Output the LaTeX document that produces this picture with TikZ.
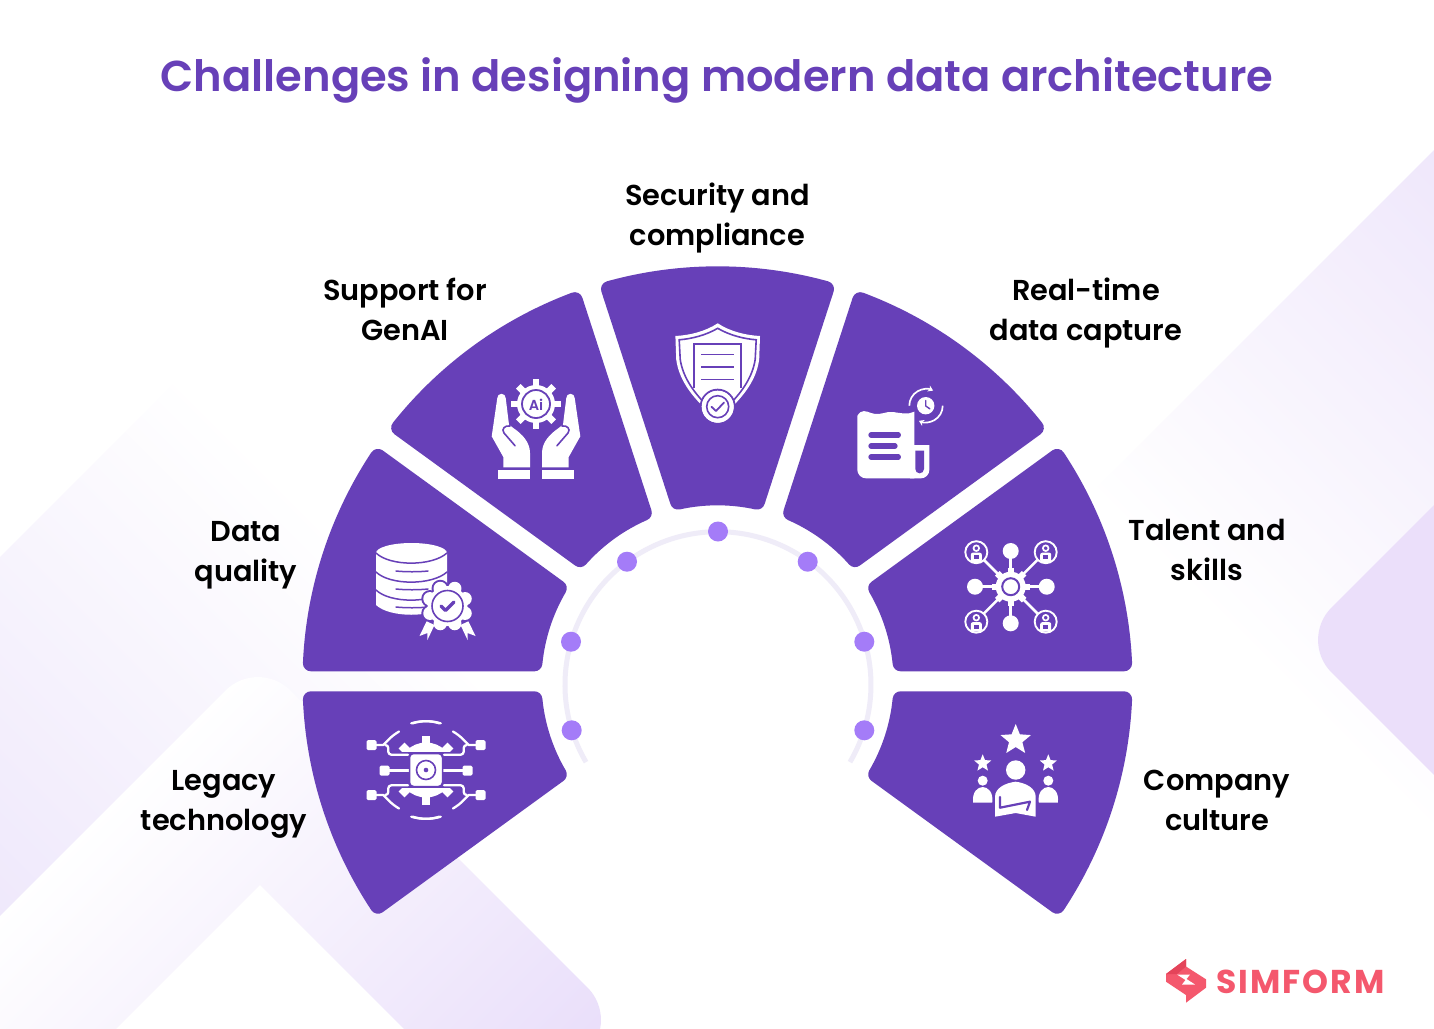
\documentclass[tikz,border=0pt]{standalone}
\usepackage{fontspec}
\usetikzlibrary{arrows.meta}
\newfontfamily\ttlfont[UprightFont={* SemiBold}]{Poppins}
\newfontfamily\logofont[UprightFont={* Bold},LetterSpace=6]{Poppins}
\definecolor{brand}{HTML}{6740B8}
\definecolor{dotc}{HTML}{A47CF8}
\definecolor{ringc}{HTML}{EFECF8}
\definecolor{deepA}{HTML}{EEE7FB}
\definecolor{deepB}{HTML}{E9DEFA}
\definecolor{deepC}{HTML}{EFE7FB}
\definecolor{deepD}{HTML}{EBDFFA}
\definecolor{coral}{HTML}{F4586D}
\definecolor{coraldk}{HTML}{E4445A}
\pgfdeclarehorizontalshading{fadeA}{100bp}{color(0bp)=(white); color(32bp)=(white); color(68bp)=(deepA); color(100bp)=(deepA)}
\pgfdeclarehorizontalshading{fadeB}{100bp}{color(0bp)=(white); color(32bp)=(white); color(68bp)=(deepB); color(100bp)=(deepB)}
\pgfdeclarehorizontalshading{fadeC}{100bp}{color(0bp)=(white); color(32bp)=(white); color(68bp)=(deepC); color(100bp)=(deepC)}
\tikzset{
  sector/.style={fill=brand,draw=brand,line width=16pt,line join=round},
  lbl/.style={font=\ttlfont\fontsize{28.8}{40}\selectfont,align=center,text=black,inner sep=0pt},
  wl/.style={draw=white,line cap=round,line join=round},
  pl/.style={draw=brand,line cap=round,line join=round},
}
\newcommand\gearshape[6]{% x y rOut rIn list halfwidth
  \begin{scope}[shift={(#1,#2)}]
    \fill[white] (0,0) circle[radius=#4];
    \foreach \g in {#5}{\fill[white,rotate=\g] (#4-1,-#6) rectangle (#3,#6);}
  \end{scope}}
\newcommand\starshape[3]{\fill[white,shift={(#1,#2)},line join=round]
  (-90:#3) -- (-54:{#3*.44}) -- (-18:#3) -- (18:{#3*.44}) -- (54:#3) -- (90:{#3*.44}) -- (126:#3) -- (162:{#3*.44}) -- (198:#3) -- (234:{#3*.44}) -- cycle;}
\begin{document}
\begin{tikzpicture}[x=1pt,y=-1pt]
\useasboundingbox (0,0) rectangle (1434,1028);
% background
\begin{scope}
\clip (0,0) rectangle (1434,1028);
\fill[white] (0,0) rectangle (1434,1028);
\shade[shading=fadeA,shading angle=225] (178.5,378.5) -- (553,753) -- (178.5,1128) -- (-196,753) -- cycle;
\shade[shading=fadeC,shading angle=45] (1434,150) -- (1776,492) -- (1434,834) -- (1092,492) -- cycle;
\fill[deepD,rounded corners=46pt] (1299,640) -- (1500,439) -- (1700,640) -- (1500,841) -- cycle;
\shade[shading=fadeB,shading angle=-45,rounded corners=46pt] (258,658) -- (620,1020) -- (258,1382) -- (-104,1020) -- cycle;
\fill[white] (260,885) -- (420,1045) -- (100,1045) -- cycle;
\end{scope}
% sectors
\foreach \a in {144,180,216,252,288,324,360}{
  \filldraw[sector,shift={(717.5,681.3)}] ({\a+2.535}:407) arc[start angle={\a+2.535},end angle={\a+36-2.535},radius=407]
    -- ({\a+36-5.614}:184) arc[start angle={\a+36-5.614},end angle={\a+5.614},radius=184] -- cycle;
}
% ring and dots
\draw[ringc,line width=5pt,shift={(718,684.7)}] (149.6:153) arc[start angle=149.6,end angle=390.4,radius=153];
\foreach \x/\y in {718/531.5,627/561.7,807.7/561.7,571/641.7,864.3/641.7,571.7/730.3,864.3/730.3}{
  \fill[dotc] (\x,\y) circle[radius=10];
}
% GenAI icon
\begin{scope}[shift={(536,404)}]
  \foreach \s in {1,-1}{
    \begin{scope}[xscale=\s]
      \fill[white] (-38.7,-6) arc[start angle=180,end angle=360,radius=4.2] -- (-27,20.7) -- (-22.7,24)
        .. controls (-14,30) and (-6,38) .. (-6,49) -- (-6,63.3) -- (-32.7,63.3) -- (-32.7,53) -- (-44.3,32.3) -- cycle;
      \draw[pl,line width=1.6pt] (-26,22) .. controls (-31,21) and (-35,25) .. (-32,29) -- (-21,41.7);
      \fill[white] (-37.7,65.7) rectangle (-6,75);
    \end{scope}
  }
\end{scope}
\gearshape{536}{404}{25}{19}{0,45,90,135,180,225,270,315}{3.2}
\draw[brand,line width=1.8pt] (536,404) circle[radius=14];
\node[font=\ttlfont\fontsize{14.5}{14.5}\selectfont,text=brand,inner sep=0pt] (aitxt) at (536,404.5) {Ai};
% database icon
\fill[white] (376,553) -- (447,553) -- (447,605) .. controls (432,618) and (390,618) .. (376,605) -- cycle;
\fill[white] (411.5,553) ellipse[x radius=35.5,y radius=10];
\foreach \yy in {553,572,590}{
  \draw[pl,line width=1.5pt] (376,\yy) .. controls (390,\yy+13.5) and (432,\yy+13.5) .. (447,\yy);
}
\foreach \yy in {571,589,607}{
  \draw[pl,line width=1.5pt] (396,\yy) .. controls (405,\yy+1) and (419,\yy+1) .. (428,\yy);
}
\begin{scope}[shift={(447.5,606)}]
  \fill[brand] (0,0) circle[radius=21];
  \foreach \g in {0,45,...,315}{\fill[brand] (\g+22.5:19) circle[radius=8.7];}
  \fill[white] (0,0) circle[radius=20];
  \foreach \g in {0,45,...,315}{\fill[white] (\g+22.5:19) circle[radius=6.7];}
  \draw[brand,line width=1.6pt] (0,0) circle[radius=15.5];
  \draw[pl,line width=3.4pt] (-6.5,0) -- (-2,4.5) -- (6.5,-4);
\end{scope}
\fill[white] (460.5,625) -- (468.4,621.3) -- (475.5,636) -- (467.6,633) -- (467.6,640) -- cycle;
\fill[white] (434.5,625) -- (426.6,621.3) -- (419.5,636) -- (427.4,633) -- (427.4,640) -- cycle;
% Legacy technology icon
\begin{scope}[shift={(426,770)}]
  \gearshape{0}{0}{34.5}{27.5}{-135,-90,-45,45,90,135}{4.2}
  \fill[brand] (-40,-18.2) rectangle (40,18.2);
  \foreach \sx/\sy in {1/1,-1/1,1/-1,-1/-1}{
    \begin{scope}[xscale=\sx,yscale=\sy]
      \fill[white,rounded corners=1.5pt] (-59.5,-30) rectangle (-49.5,-20);
      \draw[wl,line width=2.3pt] (-50,-25) -- (-42.7,-25) -- (-37.7,-30) .. controls (-34,-34) and (-31,-36) .. (-27,-38.5);
      \draw[wl,line width=2.3pt,rounded corners=3pt] (-40,-25) -- (-37.7,-25) -- (-37.7,-15.3) -- (-18,-15.3);
      \draw[wl,line width=2.3pt] (-13.3,-46.7) .. controls (-5,-49.5) and (5,-49.5) .. (14.7,-46.7);
    \end{scope}
  }
  \foreach \s in {1,-1}{
    \fill[white,rounded corners=1.5pt] (\s*41.5-5,-4.5) rectangle (\s*41.5+5,5.5);
    \draw[white,line width=2.3pt] (\s*37,0.5) -- (\s*16,0.5);
  }
  \filldraw[brand,fill=white,line width=1.5pt,rounded corners=4pt] (-16.5,-16.5) rectangle (16.5,16.5);
  \draw[brand,line width=1.6pt] (0,0) circle[radius=9.5];
  \fill[brand] (0,0) circle[radius=2.3];
\end{scope}
% Security icon
\begin{scope}[shift={(717.7,323.3)}]
  \fill[white] (0,0) .. controls (12,8) and (28,12) .. (42.3,12.7) -- (41.5,36) .. controls (39,55) and (28,70) .. (14,84) -- (0,95) -- (-14,84) .. controls (-28,70) and (-39,55) .. (-41.5,36) -- (-42.3,12.7) .. controls (-28,12) and (-12,8) .. cycle;
  \draw[brand,line width=1.6pt,line join=miter] (0,5) .. controls (12,12) and (26,15.5) .. (38.5,16.5) -- (37.5,36) .. controls (35,53) and (25,68) .. (11,82) -- (0,91) -- (-11,82) .. controls (-25,68) and (-35,53) .. (-37.5,36) -- (-38.5,16.5) .. controls (-26,15.5) and (-12,12) .. cycle;
  \draw[brand,line width=2pt] (-23.7,65) -- (-23.7,20.5) -- (23.7,20.5) -- (23.7,65);
  \foreach \yy in {31,43.5,56}{\draw[brand,line width=1.5pt] (-16.5,\yy) -- (16.5,\yy);}
\end{scope}
\filldraw[white,draw=brand,line width=2pt] (717.7,406.7) circle[radius=17];
\fill[white] (717.7,406.7) circle[radius=16];
\draw[brand,line width=1.6pt] (717.7,406.7) circle[radius=11];
\draw[pl,line width=1.8pt] (711.5,406.8) -- (716,411) -- (724,402.5);
% Real-time icon
\fill[white] (857.3,416) .. controls (861,409) and (866,411) .. (871,413) .. controls (880,416) and (886,411) .. (893,412)
  .. controls (900,413) and (908,415) .. (914.3,411.7) -- (914.3,478.3) -- (866,478.3) arc[start angle=90,end angle=180,radius=8.7] -- cycle;
\fill[white] (910,445) -- (929.3,445) -- (929.3,470) arc[start angle=0,end angle=90,radius=8.3] -- (910,478.3) -- cycle;
\fill[brand] (915.3,450.7) -- (924,450.7) -- (924,469) arc[start angle=0,end angle=180,radius=4.35] -- cycle;
\foreach \yy/\xx in {435/898.3,446/895,457/898.3}{\draw[pl,line width=5.3pt] (871,\yy) -- (\xx,\yy);}
\fill[white] (925.7,405.7) circle[radius=8.7];
\draw[pl,line width=1.4pt] (925.7,400.5) -- (925.7,406) -- (929.8,408.8);
\begin{scope}[shift={(926,405.7)}]
  \draw[white,line width=1.7pt,-{Stealth[length=5pt,width=6.5pt]}] (180:16.7) arc[start angle=180,end angle=295,radius=16.7];
  \draw[white,line width=1.7pt,-{Stealth[length=5pt,width=6.5pt]}] (0:16.7) arc[start angle=0,end angle=115,radius=16.7];
\end{scope}
% Talent icon
\begin{scope}[shift={(1010.7,586.7)}]
  \foreach \a in {0,90,180,270}{\draw[white,line width=2.5pt] (0,0) -- (\a:32);}
  \foreach \a in {45,135,225,315}{\draw[white,line width=2.5pt] (0,0) -- (\a:40);}
\end{scope}
\gearshape{1010.7}{586.7}{19}{15}{0,45,90,135,180,225,270,315}{3.2}
\draw[brand,line width=2pt] (1010.7,586.7) circle[radius=8.5];
\foreach \x/\y in {1010.7/551,1010.7/623.3,975/586.7,1046.7/586.7}{\fill[white] (\x,\y) circle[radius=8];}
\foreach \x/\y in {976.3/552.2,1045.7/552.2,976.3/621.7,1045.7/621.7}{
  \begin{scope}[shift={(\x,\y)}]
    \fill[brand] (0,0) circle[radius=11];
    \draw[white,line width=1.9pt] (0,0) circle[radius=11];
    \filldraw[fill=brand,draw=white,line width=1.7pt] (0,-4) circle[radius=2.8];
    \fill[white,rounded corners=2pt] (-5.5,10) -- (-5.5,0.5) -- (5.5,0.5) -- (5.5,10) -- cycle;
    \fill[brand] (-2.6,3.2) rectangle (2.6,7.2);
  \end{scope}
}
% Culture icon
\starshape{1015.7}{740}{16}
\starshape{982.7}{763.3}{9}
\starshape{1048.3}{763.3}{9}
\fill[white] (1015.7,770) circle[radius=9.7];
\fill[white] (995,816.7) -- (995,797) .. controls (995,788) and (1005,783) .. (1015.7,781.7) .. controls (1026,783) and (1035.7,788) .. (1035.7,797) -- (1035.7,816.7) -- (1015.7,813) -- cycle;
\draw[pl,line width=2.2pt] (1000,797) -- (1000,807.7) -- (1030,801.7) -- (1027,810);
\foreach \x in {982.7,1048.3}{
  \fill[white] (\x,780.7) circle[radius=5];
  \fill[white] (\x-9.5,802.7) .. controls (\x-11,792) and (\x-5,787) .. (\x,787) .. controls (\x+5,787) and (\x+11,792) .. (\x+9.5,802.7) -- cycle;
}
% logo
\fill[coral] (1166,974) -- (1186,959) -- (1186,966.5) -- (1206,979.3) -- (1206,987.7) -- (1186,1002.7) -- (1186,995) -- (1166,981.7) -- cycle;
\fill[coraldk] (1166,974) -- (1186,959) -- (1186,966.5) -- (1177,974) -- cycle;
\fill[white] (1177,974.5) -- (1190,974.5) -- (1186.5,979) -- (1195,984.5) -- (1182,984.5) -- (1185.5,980) -- cycle;
\node[font=\logofont\fontsize{33}{33}\selectfont,text=coral,inner sep=0pt] (logo) at (1300.5,981.5) {SIMFORM};
% title
\node[font=\ttlfont\fontsize{43.2}{44}\selectfont,text=brand,inner sep=0pt] (title) at (717,80.5) {Challenges in designing modern data architecture};
% labels
\node[lbl] (security) at (717.5,217) {Security and\strut\\compliance\strut};
\node[lbl] (genai) at (405,312) {Support for\strut\\GenAI\strut};
\node[lbl] (realtime) at (1086,312) {Real-time\strut\\data capture\strut};
\node[lbl] (dataq) at (246,553) {Data\strut\\quality\strut};
\node[lbl] (talent) at (1207,552) {Talent and\strut\\skills\strut};
\node[lbl] (legacy) at (224,802) {Legacy\strut\\technology\strut};
\node[lbl] (culture) at (1217,802) {Company\strut\\culture\strut};
\end{tikzpicture}
\end{document}
